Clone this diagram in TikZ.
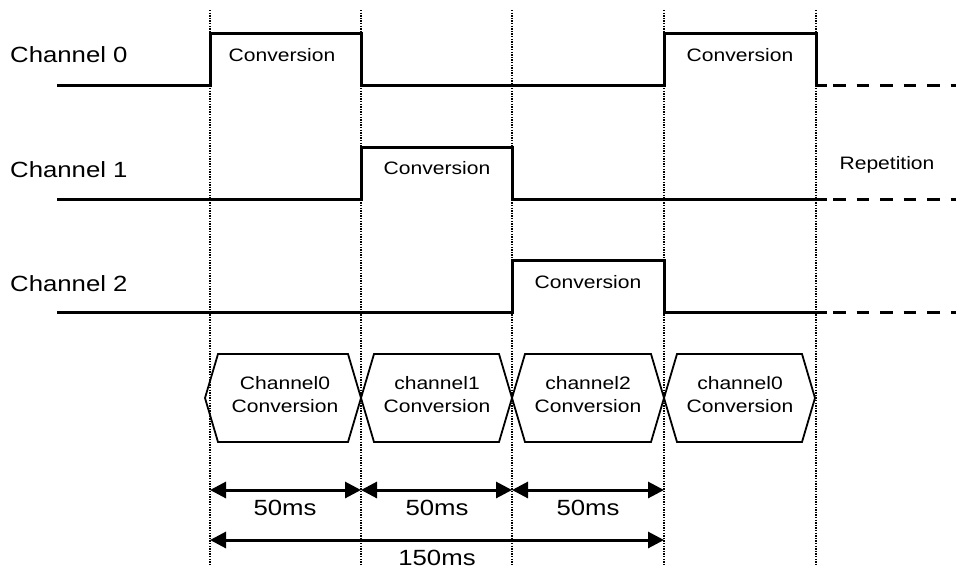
\documentclass[tikz,border=0pt]{standalone}
\usepackage{fontspec}
\setmainfont[FakeStretch=1.17]{Liberation Sans}
\usetikzlibrary{arrows.meta}
\begin{document}
\begin{tikzpicture}[x=1pt,y=-1pt,
  sig/.style={line width=3pt, line join=miter, line cap=rect},
  rep/.style={line width=3pt, dash pattern=on 12.5pt off 11pt},
  gridl/.style={line width=1.4pt, dash pattern=on 1.3pt off 1.3pt},
  hexa/.style={line width=1.8pt, line join=miter},
  dim/.style={line width=3pt, {Triangle[length=16pt,width=16pt]}-{Triangle[length=16pt,width=16pt]}},
  lab/.style={font=\fontsize{22}{26}\selectfont, inner sep=0pt},
  conv/.style={font=\fontsize{18}{22}\selectfont, inner sep=0pt},
  hextxt/.style={font=\fontsize{18}{23}\selectfont, align=center, inner sep=0pt},
]
\useasboundingbox (0,0) rectangle (956,571);

% time marks (dotted verticals)
\foreach \x [count=\i from 0] in {210,361,512,664,816} {
  \coordinate (t\i) at (\x,10);
  \coordinate (b\i) at (\x,565);
  \draw[gridl] (t\i) -- (b\i);
}

% channel labels
\node[lab, anchor=west] (l0) at (10,55) {Channel 0};
\node[lab, anchor=west] (l1) at (10,170) {Channel 1};
\node[lab, anchor=west] (l2) at (10,284) {Channel 2};

% waveforms
\draw[sig] (58,85) -- (210,85) -- (210,33) -- (361,33) -- (361,85) -- (664,85) -- (664,33) -- (816,33) -- (816,85) -- (825,85);
\draw[rep] (833,85) -- (956,85);
\draw[sig] (58,199) -- (361,199) -- (361,147) -- (512,147) -- (512,199) -- (825,199);
\draw[rep] (833,199) -- (956,199);
\draw[sig] (58,312) -- (512,312) -- (512,260) -- (664,260) -- (664,312) -- (825,312);
\draw[rep] (833,312) -- (956,312);

\node[conv] (c0a) at (282,55) {Conversion};
\node[conv] (c1) at (437,168) {Conversion};
\node[conv] (c2) at (588,282) {Conversion};
\node[conv] (c0b) at (740,55) {Conversion};
\node[conv] (rp) at (887,165) {Repetition};

% hexagons
\draw[hexa] (205,398) -- (218,354) -- (348,354) -- (361,398) -- (348,442) -- (218,442) -- cycle;
\draw[hexa] (361,398) -- (374,354) -- (499,354) -- (512,398) -- (499,442) -- (374,442) -- cycle;
\draw[hexa] (512,398) -- (525,354) -- (651,354) -- (664,398) -- (651,442) -- (525,442) -- cycle;
\draw[hexa] (664,398) -- (677,354) -- (802,354) -- (815,398) -- (802,442) -- (677,442) -- cycle;
\node[hextxt] (h0) at (285,395) {Channel0\\Conversion};
\node[hextxt] (h1) at (437,395) {channel1\\Conversion};
\node[hextxt] (h2) at (588,395) {channel2\\Conversion};
\node[hextxt] (h3) at (740,395) {channel0\\Conversion};

% dimension arrows
\coordinate (a0) at (210,490);
\coordinate (a1) at (361,490);
\coordinate (a2) at (512,490);
\coordinate (a3) at (664,490);
\draw[dim] (a0) -- (a1);
\draw[dim] (a1) -- (a2);
\draw[dim] (a2) -- (a3);
\node[lab] (d1) at (285,508) {50ms};
\node[lab] (d2) at (437,508) {50ms};
\node[lab] (d3) at (588,508) {50ms};
\coordinate (e0) at (210,540);
\coordinate (e1) at (664,540);
\draw[dim] (e0) -- (e1);
\node[lab] (d4) at (437,558) {150ms};
\end{tikzpicture}
\end{document}
